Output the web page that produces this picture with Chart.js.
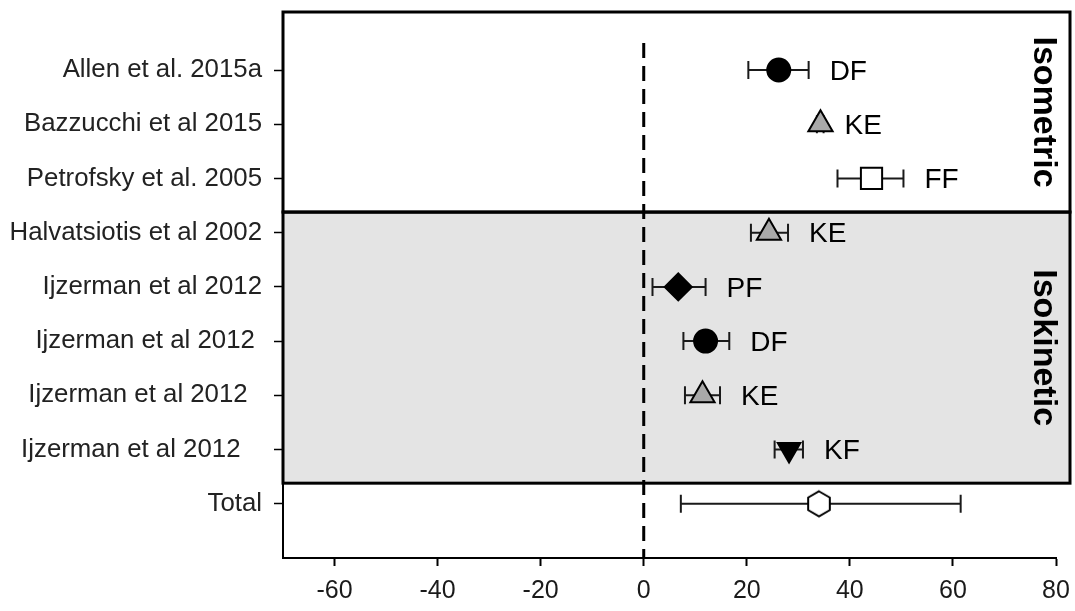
<!DOCTYPE html>
<html><head><meta charset="utf-8">
<script src="https://cdn.jsdelivr.net/npm/chart.js@4.4.0/dist/chart.umd.min.js"></script>
<style>html,body{margin:0;padding:0;background:#fff;}</style>
</head><body>
<canvas id="c" width="1075" height="611"></canvas>
<script>
// ---- data ----
const categories = ['Allen et al. 2015a','Bazzucchi et al 2015','Petrofsky et al. 2005','Halvatsiotis et al 2002','Ijzerman et al 2012','Ijzerman et al 2012 ','Ijzerman et al 2012  ','Ijzerman et al 2012   ','Total'];
const means  = [26.2, 34.3, 44.2, 24.3, 6.7, 12.0, 11.4, 28.2, 34.0];
const lowers = [20.3, 33.6, 37.6, 20.8, 1.7, 7.7, 8.0, 25.4, 7.2];
const uppers = [32.0, 34.9, 50.4, 28.0, 12.0, 16.6, 14.8, 30.9, 61.5];
const muscles = ['DF','KE','FF','KE','PF','DF','KE','KF',''];
const xTicks = [-60,-40,-20,0,20,40,60,80];
const groupNames = ['Isometric','Isokinetic'];
const groupFirst = [0,3];
const groupLast = [2,7];

// ---- styles ----
const markerShape = ['circle','triangle','square','triangle','diamond','circle','triangle','triangleDown','hexagon'];
const FONT = '"Liberation Sans", Arial, sans-serif';

function makeHex(){
  const c = document.createElement('canvas');
  c.width = 30; c.height = 30;
  const g = c.getContext('2d');
  g.beginPath();
  for (let k=0;k<6;k++){
    const a = -Math.PI/2 + k*Math.PI/3;
    const px = 15 + 12.5*Math.cos(a), py = 15 + 12.5*Math.sin(a);
    k? g.lineTo(px,py) : g.moveTo(px,py);
  }
  g.closePath();
  g.fillStyle = '#fff'; g.fill();
  g.lineWidth = 2; g.strokeStyle = '#000'; g.stroke();
  return c;
}
const hex = makeHex();
const styleMap = {
  circle:      {ps:'circle',   r:11.5, bg:'#000',    rot:0},
  triangle:    {ps:'triangle', r:14,   bg:'#a9a9a9', rot:0},
  square:      {ps:'rect',     r:15,   bg:'#fff',    rot:0},
  diamond:     {ps:'rectRot',  r:13.5, bg:'#000',    rot:0},
  triangleDown:{ps:'triangle', r:13,   bg:'#000',    rot:180},
  hexagon:     {ps:hex,        r:13,   bg:'#fff',    rot:0}
};

const errorBars = {
  id:'errorBars',
  beforeDatasetsDraw(chart){
    const ctx = chart.ctx, xs = chart.scales.x, ys = chart.scales.y;
    ctx.save();
    ctx.strokeStyle = '#1a1a1a'; ctx.lineWidth = 2;
    for (let i=0;i<means.length;i++){
      const y = ys.getPixelForValue(i);
      const x1 = xs.getPixelForValue(lowers[i]), x2 = xs.getPixelForValue(uppers[i]);
      ctx.beginPath();
      ctx.moveTo(x1,y); ctx.lineTo(x2,y);
      ctx.moveTo(x1,y-9); ctx.lineTo(x1,y+9);
      ctx.moveTo(x2,y-9); ctx.lineTo(x2,y+9);
      ctx.stroke();
    }
    ctx.restore();
  }
};

const boxes = {
  id:'boxes',
  beforeDraw(chart){
    const ctx = chart.ctx, ys = chart.scales.y, a = chart.chartArea;
    const right = a.right + 14;
    ctx.save();
    ctx.fillStyle = '#fff'; ctx.fillRect(0,0,chart.width,chart.height);
    ctx.fillStyle = '#e4e4e4';
    const top = ys.getPixelForValue(groupLast[0] + 0.62);
    const bot = ys.getPixelForValue(groupLast[1] + 0.62);
    ctx.fillRect(a.left, top, right - a.left, bot - top);
    ctx.restore();
  },
  afterDatasetsDraw(chart){
    const ctx = chart.ctx, ys = chart.scales.y, a = chart.chartArea;
    const right = a.right + 14;
    ctx.save();
    ctx.strokeStyle = '#000'; ctx.lineWidth = 3;
    for (let g=0; g<groupNames.length; g++){
      const top = g===0 ? a.top : ys.getPixelForValue(groupLast[g-1] + 0.62);
      const bot = ys.getPixelForValue(groupLast[g] + 0.62);
      ctx.strokeRect(a.left, top, right - a.left, bot - top);
      ctx.save();
      ctx.translate(right - 36, (top+bot)/2);
      ctx.rotate(Math.PI/2);
      ctx.fillStyle = '#000';
      ctx.font = 'bold 34px ' + FONT;
      ctx.textAlign = 'center'; ctx.textBaseline = 'alphabetic';
      ctx.fillText(groupNames[g], 0, 0);
      ctx.restore();
    }
    // muscle labels
    const xs = chart.scales.x;
    ctx.fillStyle = '#000';
    ctx.font = '28px ' + FONT;
    ctx.textAlign = 'left'; ctx.textBaseline = 'middle';
    for (let i=0;i<muscles.length;i++){
      if (!muscles[i]) continue;
      ctx.fillText(muscles[i], xs.getPixelForValue(uppers[i]) + 21, ys.getPixelForValue(i) + 2);
    }
    ctx.restore();
  }
};

const pts = means.map((m,i)=>({x:m, y:i}));
new Chart(document.getElementById('c'), {
  type:'scatter',
  data:{ datasets:[
    { data:[{x:0,y:-0.5},{x:0,y:9}], showLine:true, borderColor:'#000', borderWidth:3, borderDash:[15,8], pointRadius:0, order:2 },
    { data:pts, order:1,
      pointStyle: markerShape.map(s=>styleMap[s].ps),
      pointRadius: markerShape.map(s=>styleMap[s].r),
      pointHoverRadius: markerShape.map(s=>styleMap[s].r),
      pointRotation: markerShape.map(s=>styleMap[s].rot),
      pointBackgroundColor: markerShape.map(s=>styleMap[s].bg),
      pointBorderColor:'#000', pointBorderWidth:2 }
  ]},
  options:{
    responsive:false, animation:false, devicePixelRatio:1,
    layout:{autoPadding:false, padding:{top:12,right:19,bottom:0,left:0}},
    plugins:{legend:{display:false}, tooltip:{enabled:false}},
    scales:{
      x:{ type:'linear', min:-70, max:80,
        afterBuildTicks:s=>{ s.ticks = xTicks.map(v=>({value:v})); },
        afterFit:s=>{ s.height = 53; s.paddingLeft = 0; s.paddingRight = 0; },
        grid:{drawOnChartArea:false, drawTicks:true, tickLength:8, tickWidth:2, tickColor:'#000'},
        border:{color:'#000', width:2},
        ticks:{font:{family:FONT, size:25}, color:'#1a1a1a', padding:10, maxRotation:0}
      },
      y:{ type:'linear', min:-1.07, max:9, reverse:true,
        afterBuildTicks:s=>{ s.ticks = categories.map((_,i)=>({value:i})); },
        afterFit:s=>{ s.width = 283; s.paddingTop = 0; s.paddingBottom = 0; },
        grid:{drawOnChartArea:false, drawTicks:true, tickLength:9, tickWidth:1.5, tickColor:'#000'},
        border:{color:'#000', width:2},
        ticks:{autoSkip:false, font:{family:FONT, size:25.8}, color:'#222', padding:12,
          callback:v=>categories[v]}
      }
    }
  },
  plugins:[boxes, errorBars]
});
</script>
</body></html>
